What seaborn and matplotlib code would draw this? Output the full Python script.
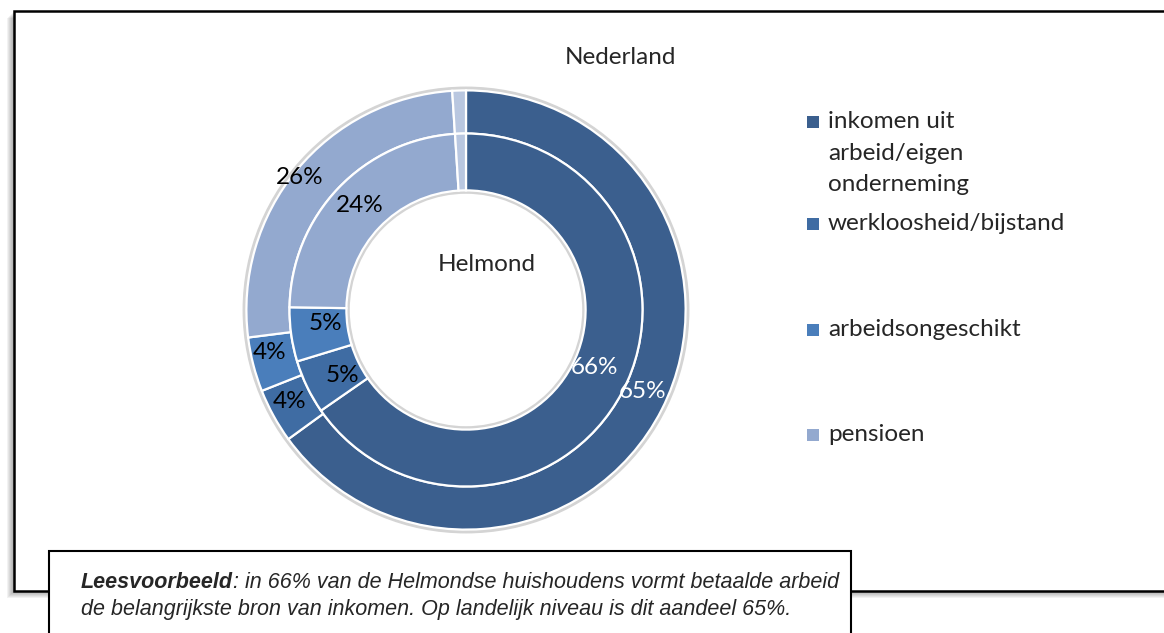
import matplotlib
matplotlib.use("Agg")
import matplotlib.pyplot as plt
import matplotlib.patches as mpatches
import seaborn as sns

sns.set_style("white")
plt.rcParams['font.family'] = ['Lato', 'DejaVu Sans']

# data
categories = ["inkomen uit\narbeid/eigen\nonderneming", "werkloosheid/bijstand",
              "arbeidsongeschikt", "pensioen", "overig"]
nederland = [65, 4, 4, 26, 1]
helmond = [66, 5, 5, 24, 1]
nl_labels = ["65%", "4%", "4%", "26%", ""]
hm_labels = ["66%", "5%", "5%", "24%", ""]
colors = ["#3B5F8E", "#3F6CA3", "#4A7EBB", "#93A9CF", "#B9C7E0"]

W, H = 1164, 633
fig = plt.figure(figsize=(W / 100, H / 100), dpi=100)

# outer frame with soft shadow
for k in range(1, 8):
    sh = mpatches.Rectangle(((14 - k) / W, 1 - (591 + k) / H), 1.1, 580 / H, transform=fig.transFigure,
                            facecolor="black", alpha=0.05, edgecolor="none", zorder=0)
    fig.patches.append(sh)
frame = mpatches.Rectangle((14 / W, 1 - 591 / H), 1.1, 580 / H, transform=fig.transFigure,
                           facecolor="white", edgecolor="black", lw=1.8, zorder=1)
fig.patches.append(frame)

# donut axes: center (466, 310), outer radius 224 px
cx, cy, r = 466, 310, 224
ax = fig.add_axes([(cx - r) / W, (H - cy - r) / H, 2 * r / W, 2 * r / H])
ax.set_zorder(2)
ax.patch.set_alpha(0)

r_out = 1.0
r_mid = 180 / 224
r_in = 122 / 224

# soft grey halo around the rings
ax.add_patch(mpatches.Circle((0, 0), r_out + 0.008, facecolor="none", edgecolor="#d4d4d4", lw=3))
ax.add_patch(mpatches.Circle((0, 0), r_in - 0.006, facecolor="none", edgecolor="#d4d4d4", lw=3))

wedges_o, _ = ax.pie(nederland, radius=r_out, colors=colors, startangle=90, counterclock=False,
                     wedgeprops=dict(width=r_out - r_mid, edgecolor="white", linewidth=1.6))
wedges_i, _ = ax.pie(helmond, radius=r_mid, colors=colors, startangle=90, counterclock=False,
                     wedgeprops=dict(width=r_mid - r_in, edgecolor="white", linewidth=1.6))
ax.set_xlim(-1.02, 1.02)
ax.set_ylim(-1.02, 1.02)
ax.set_aspect("equal")
ax.axis("off")

fs = 17.5
# value labels (pixel positions)
label_pos_o = [(643, 392), (290, 401), (270, 353), (300, 178), None]
label_pos_i = [(594, 367), (342, 376), (325, 323), (360, 205), None]
for txt, pos, col in zip(nl_labels, label_pos_o, ["white", "black", "black", "black", "black"]):
    if pos:
        fig.text(pos[0] / W, 1 - pos[1] / H, txt, ha="center", va="center", fontsize=fs, color=col, zorder=5)
for txt, pos, col in zip(hm_labels, label_pos_i, ["white", "black", "black", "black", "black"]):
    if pos:
        fig.text(pos[0] / W, 1 - pos[1] / H, txt, ha="center", va="center", fontsize=fs, color=col, zorder=5)

fig.text(620 / W, 1 - 57 / H, "Nederland", ha="center", va="center", fontsize=fs)
fig.text(487 / W, 1 - 265 / H, "Helmond", ha="center", va="center", fontsize=fs)

# legend
leg_y = [122, 224, 330, 435]
for name, col, y in zip(categories[:4], colors[:4], leg_y):
    sq = mpatches.Rectangle((807 / W, 1 - (y + 6) / H), 12 / W, 12 / H, transform=fig.transFigure,
                            facecolor=col, edgecolor="none", zorder=5)
    fig.patches.append(sq)
    fig.text(828 / W, 1 - (y - 11) / H, name, ha="left", va="top", fontsize=fs, linespacing=1.63)

# reading example box
box = mpatches.Rectangle((49 / W, -0.05), 802 / W, 0.05 + (H - 551) / H, transform=fig.transFigure,
                         facecolor="white", edgecolor="black", lw=1.5, zorder=6)
fig.patches.append(box)
bfs = 15.5
t1 = fig.text(81 / W, 1 - 582 / H, "Leesvoorbeeld", fontsize=bfs, style="italic", weight="bold",
              family="Liberation Sans", va="center", zorder=7)
fig.canvas.draw()
bb = t1.get_window_extent()
fig.text(bb.x1 / W, 1 - 582 / H, ": in 66% van de Helmondse huishoudens vormt betaalde arbeid",
         fontsize=bfs, style="italic", family="Liberation Sans", va="center", zorder=7)
fig.text(81 / W, 1 - 610 / H, "de belangrijkste bron van inkomen. Op landelijk niveau is dit aandeel 65%.",
         fontsize=bfs, style="italic", family="Liberation Sans", va="center", zorder=7)

fig.savefig("out.png", dpi=100)
